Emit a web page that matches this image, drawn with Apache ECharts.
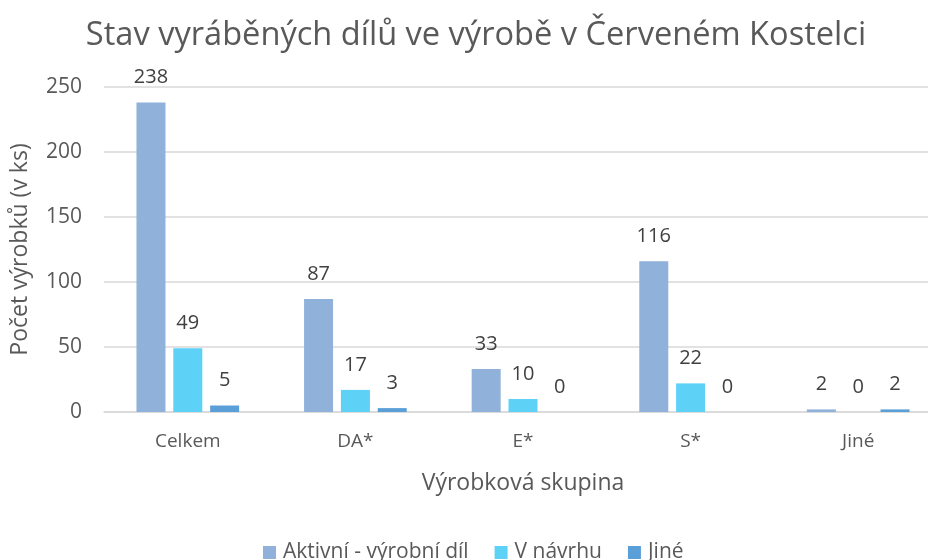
<!DOCTYPE html>
<html>
<head>
<meta charset="utf-8">
<script src="https://cdn.jsdelivr.net/npm/echarts@6/dist/echarts.min.js"></script>
<style>html,body{margin:0;padding:0;background:#fff;overflow:hidden}#c{width:942px;height:560px}</style>
</head>
<body>
<div id="c"></div>
<script>
const categories = ['Celkem', 'DA*', 'E*', 'S*', 'Jiné'];
const seriesNames = ['Aktivní - výrobní díl', 'V návrhu', 'Jiné'];
const aktivni = [238, 87, 33, 116, 2];
const vNavrhu = [49, 17, 10, 22, 0];
const jine = [5, 3, 0, 0, 2];
const yTicks = [0, 50, 100, 150, 200, 250];

const colors = ['#8FB1DA', '#5DD1F6', '#5B9FD8'];
const font = '"Open Sans", sans-serif';
const chart = echarts.init(document.getElementById('c'));
const mk = (name, data, color) => ({
  name, type: 'bar', data, barWidth: 29, barGap: '27%',
  itemStyle: { color },
  label: { show: true, position: 'top', distance: 15, color: '#404040', fontSize: 20, fontFamily: font }
});
chart.setOption({
  animation: false,
  textStyle: { fontFamily: font },
  title: {
    text: 'Stav vyráběných dílů ve výrobě v Červeném Kostelci',
    left: 471, top: 14, textAlign: 'center',
    textStyle: { fontSize: 32.6, fontWeight: 'normal', color: '#595959', fontFamily: font }
  },
  legend: {
    top: 537, left: 258, itemWidth: 13, itemHeight: 13, itemGap: 26,
    icon: 'rect',
    textStyle: { fontSize: 21, color: '#595959', fontFamily: font, padding: [0, 0, 0, 2] }
  },
  grid: { left: 104, right: 0, top: 87, height: 325, containLabel: false },
  xAxis: {
    type: 'category', data: categories,
    name: 'Výrobková skupina', nameLocation: 'middle', nameGap: 60,
    nameTextStyle: { fontSize: 23, color: '#595959', fontFamily: font },
    axisLine: { lineStyle: { color: '#D9D9D9', width: 1.5 } },
    axisTick: { show: false },
    axisLabel: { fontSize: 19, color: '#595959', margin: 20, fontFamily: font }
  },
  yAxis: {
    type: 'value', min: yTicks[0], max: yTicks[yTicks.length - 1], interval: 50,
    name: 'Počet výrobků (v ks)', nameLocation: 'middle', nameGap: 72,
    nameTextStyle: { fontSize: 23, color: '#595959', fontFamily: font },
    axisLine: { show: false }, axisTick: { show: false },
    axisLabel: { fontSize: 21, color: '#595959', margin: 22, fontFamily: font },
    splitLine: { lineStyle: { color: '#D9D9D9', width: 1.5 } }
  },
  series: [mk(seriesNames[0], aktivni, colors[0]), mk(seriesNames[1], vNavrhu, colors[1]), mk(seriesNames[2], jine, colors[2])]
});
</script>
</body>
</html>
